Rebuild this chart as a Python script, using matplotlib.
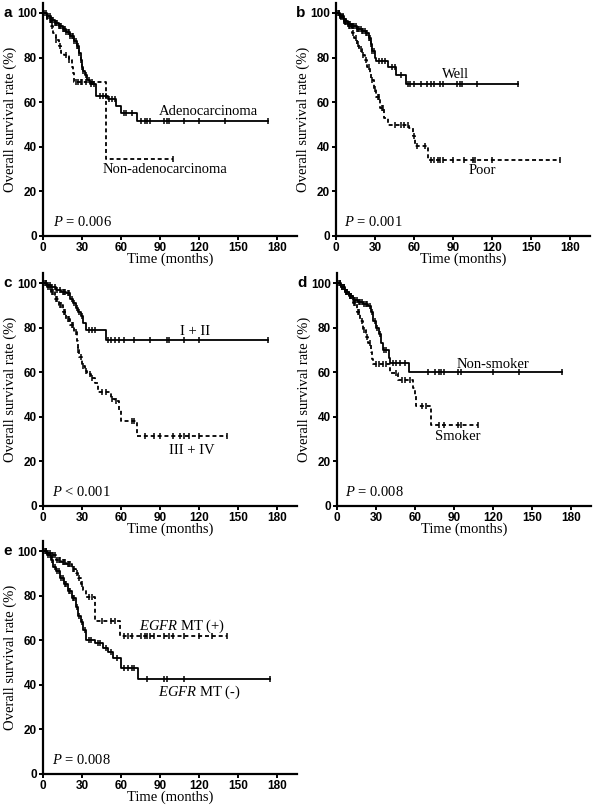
import numpy as np
import matplotlib
matplotlib.use("Agg")
import matplotlib.pyplot as plt

plt.rcParams["mathtext.fontset"] = "custom"
plt.rcParams["mathtext.rm"] = "Liberation Serif"
plt.rcParams["mathtext.it"] = "Liberation Serif:italic"

# ---------------- data ----------------
# Panel a
a_adeno_t = [0, 3, 6, 9, 12, 15, 18, 21, 24, 26, 28, 29, 30, 31, 32, 34, 36, 41, 50, 56, 60, 72]
a_adeno_s = [100, 98.5, 97, 95.5, 94, 93, 91.5, 89.5, 87.5, 85, 82, 79, 76, 74, 72, 70, 68, 62.7, 61.5, 58.5, 55, 51.6]
a_adeno_end = 173
a_adeno_c = [1, 2, 3, 4, 5, 6, 7, 8, 9, 10, 11, 12, 13, 14, 15, 16, 17, 18, 19, 20, 21, 22, 23, 24, 25,
             26, 27, 28, 29, 30, 31, 33, 35, 37, 39, 44, 46, 48, 51, 53, 55, 62, 64, 68, 75, 78, 80, 82,
             93, 95, 97, 108, 120, 140, 173]
a_non_t = [0, 3, 6, 8, 10, 12, 14, 16, 20, 22, 23, 24, 48]
a_non_s = [100, 97, 94, 91, 88, 85, 82, 81, 79, 76, 73, 69.2, 34.5]
a_non_end = 100
a_non_c = [5, 7, 10, 13, 18, 20, 25, 27, 29, 30, 33, 38, 100]

# Panel b
b_well_t = [0, 3, 6, 9, 12, 16, 20, 23, 25, 27, 28, 30, 31, 40, 46, 54]
b_well_s = [100, 98.5, 96.5, 95, 94, 93, 92, 91, 89, 86, 83, 80, 78.5, 75.7, 72.3, 68]
b_well_end = 140
b_well_c = [1, 2, 3, 4, 5, 6, 7, 8, 9, 10, 11, 12, 13, 14, 15, 16, 17, 18, 19, 20, 21, 22, 23, 24,
            25, 26, 27, 28, 29, 33, 35, 38, 43, 45, 50, 55, 57, 60, 65, 70, 73, 75, 80, 82, 93, 95, 97,
            108, 140]
b_poor_t = [0, 3, 6, 9, 12, 14, 16, 18, 20, 22, 24, 26, 27, 29, 31, 34, 37, 40, 56, 59, 61, 71]
b_poor_s = [100, 98, 96, 94, 91, 89, 86, 84, 81, 79, 76, 73, 70, 66, 62.5, 57.5, 53, 49.7, 48.5, 45, 40.3, 34.3]
b_poor_end = 172
b_poor_c = [2, 4, 5, 7, 8, 10, 11, 13, 15, 17, 19, 21, 23, 25, 28, 30, 32, 33, 35, 36, 45, 50, 52, 55,
            60, 62, 68, 73, 75, 78, 80, 82, 90, 98, 105, 107, 120, 172]

# Panel c
c_early_t = [0, 3, 6, 10, 14, 18, 21, 23, 25, 27, 29, 31, 33, 48]
c_early_s = [100, 99, 98, 97, 96, 95.5, 93, 91, 89, 87, 85, 82, 78.7, 74.3]
c_early_end = 173
c_early_c = [2, 4, 5, 7, 9, 11, 13, 15, 16, 17, 19, 20, 22, 24, 26, 28, 30, 35, 38, 40, 50, 52, 55,
             58, 62, 70, 82, 95, 97, 108, 120, 173]
c_late_t = [0, 3, 6, 9, 12, 15, 18, 21, 24, 26, 27, 28, 30, 32, 34, 37, 40, 42, 52, 55, 58, 60, 72]
c_late_s = [100, 98, 96, 93, 90, 87, 84, 81, 78, 74, 70, 67, 63, 60.5, 59, 57.5, 55, 50.9, 48, 47, 43, 37.9, 31.6]
c_late_end = 141
c_late_c = [1, 2, 4, 5, 7, 8, 10, 11, 13, 14, 16, 17, 19, 20, 22, 23, 25, 27, 29, 31, 33, 36, 38, 45,
            48, 53, 56, 68, 70, 78, 85, 90, 100, 105, 108, 112, 120, 141]

# Panel d
d_non_t = [0, 3, 6, 9, 12, 16, 20, 24, 26, 28, 30, 32, 34, 35, 40, 41, 55]
d_non_s = [100, 98, 96, 94, 92.5, 91.5, 90.5, 89.5, 87, 83, 80, 77, 73, 70, 66.5, 64.3, 59.9]
d_non_end = 173
d_non_c = [1, 2, 4, 5, 7, 8, 10, 11, 13, 14, 15, 17, 18, 19, 21, 22, 23, 25, 27, 29, 31, 33, 36, 38,
           43, 45, 48, 52, 70, 75, 78, 80, 82, 93, 95, 120, 140, 173]
d_smk_t = [0, 3, 6, 9, 12, 15, 18, 20, 22, 24, 26, 27, 28, 41, 47, 58, 60, 61, 72]
d_smk_s = [100, 98, 96, 94, 91, 87, 83, 79, 76, 73, 69, 66, 63.5, 59.8, 56.5, 53, 50, 45, 36.2]
d_smk_end = 108
d_smk_c = [2, 4, 5, 7, 8, 10, 11, 13, 14, 16, 17, 19, 21, 23, 25, 30, 32, 35, 38, 45, 50, 52, 56,
           65, 68, 78, 82, 93, 95, 108]

# Panel e
e_pos_t = [0, 3, 6, 10, 14, 18, 22, 25, 27, 29, 31, 33, 40, 59]
e_pos_s = [100, 99, 98, 96, 95, 94, 92, 90, 88, 85, 82.5, 79.3, 68.6, 61.8]
e_pos_end = 141
e_pos_c = [2, 4, 5, 7, 8, 9, 11, 12, 13, 15, 16, 17, 19, 20, 21, 23, 24, 26, 28, 30, 35, 38, 45, 52,
           55, 62, 65, 68, 75, 78, 80, 82, 85, 93, 97, 100, 108, 120, 130, 141]
e_neg_t = [0, 3, 6, 8, 10, 13, 16, 19, 22, 25, 27, 29, 31, 33, 40, 46, 50, 54, 60, 73]
e_neg_s = [100, 98, 96, 93, 91, 88, 85, 82, 79, 75, 71, 68, 64.5, 60.3, 58.8, 56.6, 54.5, 52.1, 47.6, 42.4]
e_neg_end = 174
e_neg_c = [1, 2, 4, 5, 7, 9, 11, 12, 14, 15, 17, 18, 20, 21, 23, 24, 26, 28, 30, 32, 35, 37, 42, 44,
           48, 52, 57, 62, 65, 68, 70, 80, 93, 95, 108, 174]

x_ticks = [0, 30, 60, 90, 120, 150, 180]
y_ticks = [0, 20, 40, 60, 80, 100]

# ---------------- style ----------------
serif = "Liberation Serif"
sans = "Liberation Sans"
W, H = 600, 809
fig = plt.figure(figsize=(W / 100, H / 100), dpi=100)


def px_axes(left_px, y0_px):
    width = 254
    height = 223 * 1.045
    bottom = H - y0_px
    return fig.add_axes([left_px / W, bottom / H, width / W, height / H])


def km(ax, t, s, end, cens, ls):
    tt = list(t) + [end]
    ss = list(s) + [s[-1]]
    if ls == "--":
        ax.step(tt, ss, where="post", color="black", lw=1.3, ls=(0, (2.2, 1.6)))
    else:
        ax.step(tt, ss, where="post", color="black", lw=1.3, ls="-")
    ct = np.array(cens, dtype=float)
    idx = np.searchsorted(np.array(t, dtype=float), ct, side="right") - 1
    cs = np.array(s, dtype=float)[idx]
    ax.plot(ct, cs, ls="none", marker="|", ms=4.5, mew=1.1, color="black")


def style(ax, letter, p_text, p_x):
    ax.set_xlim(0, 195)
    ax.set_ylim(0, 104.5)
    ax.set_xticks(x_ticks)
    ax.set_yticks(y_ticks)
    for sp in ("top", "right"):
        ax.spines[sp].set_visible(False)
    for sp in ("left", "bottom"):
        ax.spines[sp].set_linewidth(1.6)
    ax.tick_params(direction="out", length=3, width=1.4, pad=1.5)
    for lab in ax.get_xticklabels() + ax.get_yticklabels():
        lab.set_fontfamily(sans)
        lab.set_fontweight("bold")
        lab.set_fontsize(8.5)
    ax.set_xlabel("Time (months)", fontfamily=serif, fontsize=10.5, labelpad=-1)
    ax.set_ylabel("Overall survival rate (%)", fontfamily=serif, fontsize=10.5, labelpad=0)
    ax.text(p_x, 6.5, r"$P$ = " + p_text, fontfamily=serif, fontsize=10.5, va="center", ha="left")
    bb = ax.get_position()
    fig.text(bb.x0 - 40 / W, bb.y1 - 10 / H, letter, fontfamily=sans, fontweight="bold",
             fontsize=11, va="center", ha="left")


# Panel a
ax = px_axes(43, 236)
km(ax, a_adeno_t, a_adeno_s, a_adeno_end, a_adeno_c, "-")
km(ax, a_non_t, a_non_s, a_non_end, a_non_c, "--")
ax.text(127, 56, "Adenocarcinoma", fontfamily=serif, fontsize=10.5, ha="center", va="center")
ax.text(94, 29.6, "Non-adenocarcinoma", fontfamily=serif, fontsize=10.5, ha="center", va="center")
style(ax, "a", "0.006", 8)

# Panel b
ax = px_axes(336, 236)
km(ax, b_well_t, b_well_s, b_well_end, b_well_c, "-")
km(ax, b_poor_t, b_poor_s, b_poor_end, b_poor_c, "--")
ax.text(92, 72.6, "Well", fontfamily=serif, fontsize=10.5, ha="center", va="center")
ax.text(112, 29.5, "Poor", fontfamily=serif, fontsize=10.5, ha="center", va="center")
style(ax, "b", "0.001", 6)

# Panel c
ax = px_axes(43, 506)
km(ax, c_early_t, c_early_s, c_early_end, c_early_c, "-")
km(ax, c_late_t, c_late_s, c_late_end, c_late_c, "--")
ax.text(117, 78.3, "I + II", fontfamily=serif, fontsize=10.5, ha="center", va="center")
ax.text(114, 25, "III + IV", fontfamily=serif, fontsize=10.5, ha="center", va="center")
ax.text(7, 6.5, r"$P$ < 0.001", fontfamily=serif, fontsize=10.5, va="center", ha="left")
ax.set_xlim(0, 195)
# style without the default P text
ax.set_ylim(0, 104.5)
ax.set_xticks(x_ticks)
ax.set_yticks(y_ticks)
for sp in ("top", "right"):
    ax.spines[sp].set_visible(False)
for sp in ("left", "bottom"):
    ax.spines[sp].set_linewidth(1.6)
ax.tick_params(direction="out", length=3, width=1.4, pad=1.5)
for lab in ax.get_xticklabels() + ax.get_yticklabels():
    lab.set_fontfamily(sans)
    lab.set_fontweight("bold")
    lab.set_fontsize(8.5)
ax.set_xlabel("Time (months)", fontfamily=serif, fontsize=10.5, labelpad=-1)
ax.set_ylabel("Overall survival rate (%)", fontfamily=serif, fontsize=10.5, labelpad=0)
bb = ax.get_position()
fig.text(bb.x0 - 40 / W, bb.y1 - 10 / H, "c", fontfamily=sans, fontweight="bold",
         fontsize=11, va="center", ha="left")

# Panel d
ax = px_axes(337, 506)
km(ax, d_non_t, d_non_s, d_non_end, d_non_c, "-")
km(ax, d_smk_t, d_smk_s, d_smk_end, d_smk_c, "--")
ax.text(120, 63.5, "Non-smoker", fontfamily=serif, fontsize=10.5, ha="center", va="center")
ax.text(93, 31.2, "Smoker", fontfamily=serif, fontsize=10.5, ha="center", va="center")
style(ax, "d", "0.008", 6)

# Panel e
ax = px_axes(43, 774)
km(ax, e_pos_t, e_pos_s, e_pos_end, e_pos_c, "--")
km(ax, e_neg_t, e_neg_s, e_neg_end, e_neg_c, "-")
ax.text(107, 66.3, r"$EGFR$ MT (+)", fontfamily=serif, fontsize=10.5, ha="center", va="center")
ax.text(120, 36.4, r"$EGFR$ MT (-)", fontfamily=serif, fontsize=10.5, ha="center", va="center")
style(ax, "e", "0.008", 7)

fig.savefig("out.png", dpi=100)
